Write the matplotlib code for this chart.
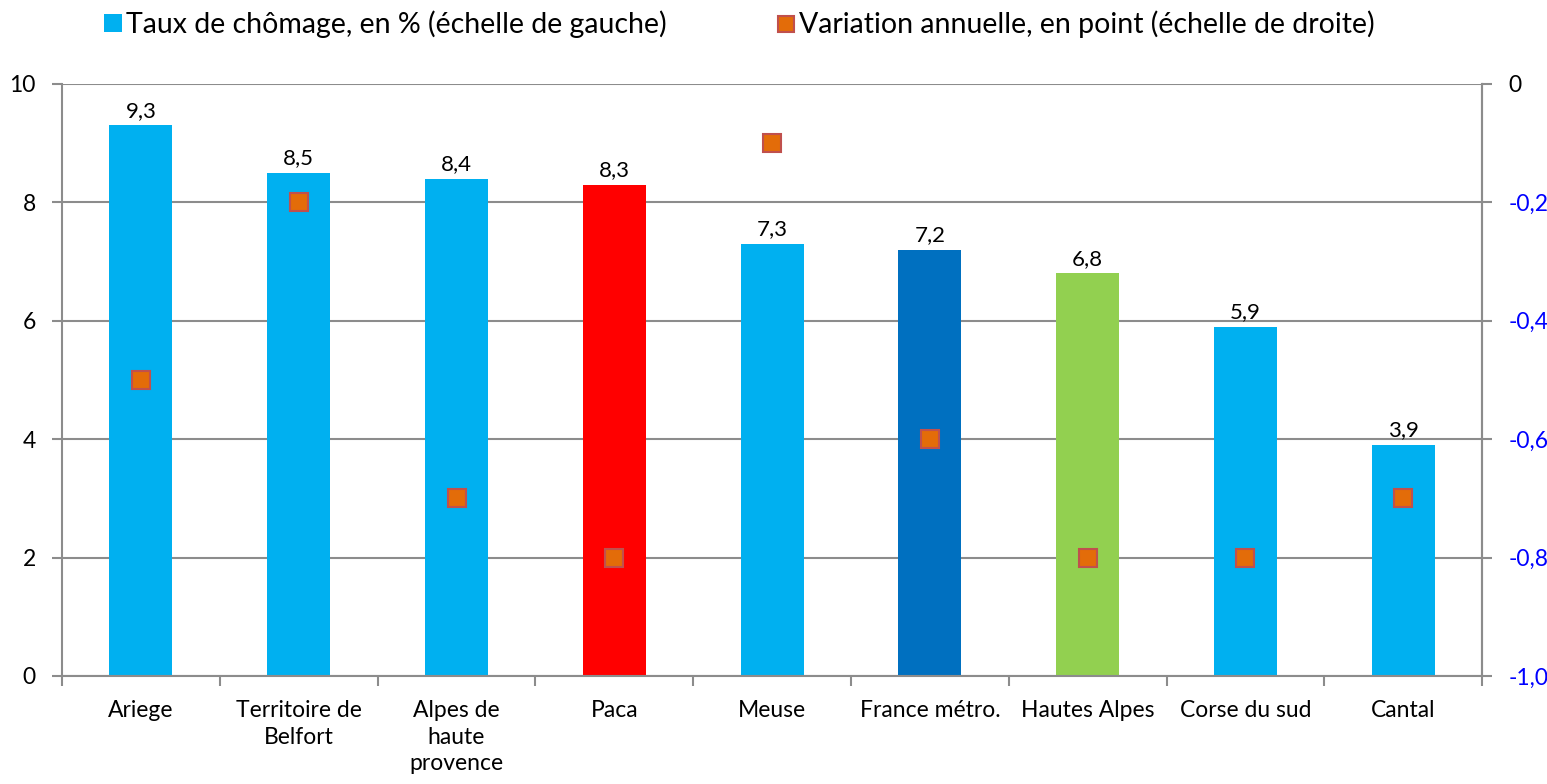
import matplotlib
matplotlib.use('Agg')
import matplotlib.pyplot as plt
from matplotlib.lines import Line2D
from matplotlib.patches import Patch

plt.rcParams['font.family'] = ['Lato', 'DejaVu Sans']

categories = ['Ariege', 'Territoire de\nBelfort', 'Alpes de\nhaute\nprovence', 'Paca', 'Meuse',
              'France métro.', 'Hautes Alpes', 'Corse du sud', 'Cantal']
taux = [9.3, 8.5, 8.4, 8.3, 7.3, 7.2, 6.8, 5.9, 3.9]
variation = [-0.5, -0.2, -0.7, -0.8, -0.1, -0.6, -0.8, -0.8, -0.7]
bar_colors = ['#00B0F0', '#00B0F0', '#00B0F0', '#FF0000', '#00B0F0',
              '#0070C0', '#92D050', '#00B0F0', '#00B0F0']
left_ticks = [0, 2, 4, 6, 8, 10]
right_ticks = [-1.0, -0.8, -0.6, -0.4, -0.2, 0.0]

grid_col = '#8C8C8C'

fig = plt.figure(figsize=(15.47, 7.84), dpi=100)
ax = fig.add_axes([0.0401, 0.1378, 0.918, 0.7551])
x = list(range(len(categories)))
ax.bar(x, taux, width=0.4, color=bar_colors, zorder=2)
for xi, v in zip(x, taux):
    ax.text(xi, v + 0.08, f'{v:.1f}'.replace('.', ','), ha='center', va='bottom', fontsize=16)

ax.set_xlim(-0.5, len(categories) - 0.5)
ax.set_ylim(0, 10)
ax.set_yticks(left_ticks)
ax.set_yticklabels([str(t) for t in left_ticks], fontsize=16.5)
ax.set_xticks(x)
ax.set_xticklabels(categories, fontsize=16.5, linespacing=1.35)
ax.tick_params(axis='x', length=0, pad=17)
ax.set_xticks([i - 0.5 for i in range(len(categories) + 1)], minor=True)
ax.tick_params(axis='x', which='minor', length=7, color=grid_col, width=1.5)
ax.tick_params(axis='y', length=7, color=grid_col, width=1.5, pad=12)
ax.yaxis.grid(True, color=grid_col, linewidth=1.5, zorder=0)
ax.set_axisbelow(True)
ax.spines['top'].set_visible(False)
for s in ['left', 'right', 'bottom']:
    ax.spines[s].set_color(grid_col)
    ax.spines[s].set_linewidth(1.5)

ax2 = ax.twinx()
ax2.plot(x, variation, linestyle='none', marker='s', markersize=13,
         markerfacecolor='#E36C09', markeredgecolor='#C0504D', markeredgewidth=1.5, zorder=3)
ax2.set_ylim(-1.0, 0.0)
ax2.set_yticks(right_ticks)
ax2.set_yticklabels(['0' if t == 0 else f'{t:.1f}'.replace('.', ',') for t in right_ticks], fontsize=16.5)
for lbl, t in zip(ax2.get_yticklabels(), right_ticks):
    lbl.set_color('black' if t == 0 else '#0000FF')
ax2.tick_params(axis='y', length=7, color=grid_col, width=1.5, pad=12)
for s in ['top', 'left', 'bottom']:
    ax2.spines[s].set_visible(False)
ax2.spines['right'].set_color(grid_col)
ax2.spines['right'].set_linewidth(1.5)

handles = [Patch(facecolor='#00B0F0', edgecolor='none'),
           Line2D([], [], linestyle='none', marker='s', markersize=11,
                  markerfacecolor='#E36C09', markeredgecolor='#C0504D', markeredgewidth=1.5)]
labels = ['Taux de chômage, en % (échelle de gauche)', 'Variation annuelle, en point (échelle de droite)']
fig.legend(handles, labels, loc='center', bbox_to_anchor=(0.478, 0.969), ncol=2, frameon=False,
           fontsize=20.5, columnspacing=3.9, handlelength=0.6, handleheight=0.6, handletextpad=0.15)

fig.savefig('out.png', dpi=100)
